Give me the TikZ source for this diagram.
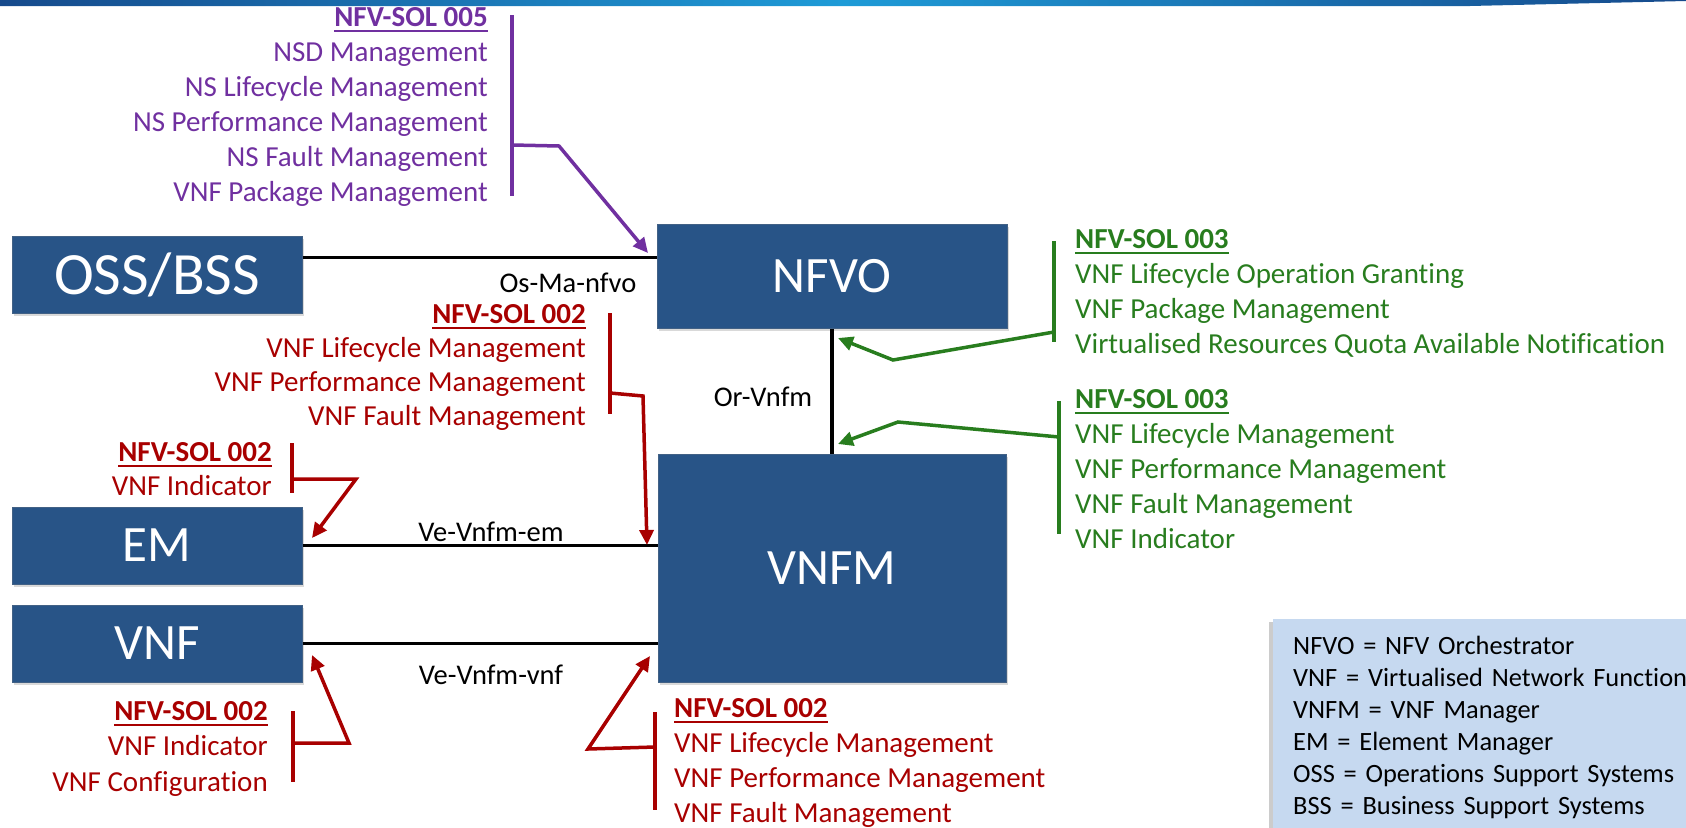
\documentclass[tikz,border=0pt]{standalone}
\usepackage{fontspec}
\setmainfont[Ligatures=NoCommon]{Carlito}
\usetikzlibrary{arrows.meta,shadows}

\definecolor{boxblue}{RGB}{40,84,135}
\definecolor{solred}{RGB}{168,0,0}
\definecolor{solgreen}{RGB}{40,125,30}
\definecolor{solpurple}{RGB}{112,48,160}
\definecolor{legendblue}{RGB}{198,217,240}
\definecolor{bardark}{RGB}{22,74,140}
\definecolor{barlight}{RGB}{30,155,215}

% underlined bold heading of a spec block
\newsavebox\headbox
\newcommand\solhead[1]{\sbox\headbox{\bfseries #1}\rlap{\rule[-6pt]{\wd\headbox}{2pt}}\usebox\headbox}

\begin{document}
\begin{tikzpicture}[x=1pt,y=-1pt,
    box/.style={draw=boxblue!70!gray, line width=1pt, fill=boxblue, text=white,
        font=\fontsize{51}{60}\selectfont, inner sep=0pt,
        drop shadow={shadow xshift=2pt,shadow yshift=-3pt,opacity=.3}},
    spec/.style={inner sep=0pt, font=\fontsize{29}{35}\selectfont},
    iface/.style={inner sep=0pt, font=\fontsize{28.5}{34}\selectfont},
    link/.style={line width=3.5pt},
    bracket/.style={line width=4.5pt},
    callout/.style={line width=3.5pt, -{Triangle[length=15pt,width=14pt]}}]
    \useasboundingbox (0,0) rectangle (1686,827);

    % top band
    \shade[left color=bardark, right color=bardark, middle color=barlight]
        (0,0) -- (1686,0) -- (1686,1) .. controls (1600,3) .. (1470,6) -- (0,6) -- cycle;

    % function blocks
    \node[box, minimum width=290, minimum height=77, font=\fontsize{60}{70}\selectfont] (oss) at (157,274.5) {OSS/BSS\hspace{22pt}};
    \node[box, minimum width=350, minimum height=104] (nfvo) at (832,276) {NFVO};
    \node[box, minimum width=348, minimum height=228] (vnfm) at (832,568) {VNFM};
    \node[box, minimum width=290, minimum height=77] (em) at (157,545.5) {EM};
    \node[box, minimum width=290, minimum height=77] (vnf) at (157,643.5) {VNF};

    % reference points
    \draw[link] ([yshift=17pt]oss.east) -- ([yshift=17pt]oss.east -| nfvo.west);
    \draw[link] (nfvo.south) -- (vnfm.north);
    \draw[link] (em.east) -- (em.east -| vnfm.west);
    \draw[link] (vnf.east) -- (vnf.east -| vnfm.west);
    \node[iface] (osma) at (568,283) {Os-Ma-nfvo};
    \node[iface] (orvnfm) at (763,397) {Or-Vnfm};
    \node[iface] (veem) at (491,532) {Ve-Vnfm-em};
    \node[iface] (vevnf) at (491,675) {Ve-Vnfm-vnf};

    % SOL 005 (base = last line)
    \node[spec, text=solpurple, align=right, anchor=base east] (sol005) at (488,201)
        {\solhead{NFV-SOL 005}\\NSD Management\\NS Lifecycle Management\\NS Performance Management\\NS Fault Management\\VNF Package Management};
    \draw[bracket, solpurple] (512,15) -- (512,196);
    \coordinate (b005) at (512,145);
    \coordinate (t005) at (648,253);
    \draw[callout, solpurple] (b005) -- (559,146) -- (t005);

    % SOL 002 towards VNFM (Ve-Vnfm-em)
    \node[spec, text=solred, align=right, anchor=base east, font=\fontsize{29}{34}\selectfont] (sol002m) at (586,425)
        {\solhead{NFV-SOL 002}\\VNF Lifecycle Management\\VNF Performance Management\\VNF Fault Management};
    \draw[bracket, solred] (610,313) -- (610,414);
    \coordinate (b002m) at (610,393);
    \coordinate (t002m) at (647,545);
    \draw[callout, solred] (b002m) -- (643,396) -- (t002m);

    % SOL 002 towards EM
    \node[spec, text=solred, align=right, anchor=base east, font=\fontsize{29}{34}\selectfont] (sol002em) at (272,495)
        {\solhead{NFV-SOL 002}\\VNF Indicator};
    \draw[bracket, solred] (292,443) -- (292,493);
    \coordinate (b002em) at (292,479);
    \coordinate (t002em) at (312,538);
    \draw[callout, solred] (b002em) -- (356,479) -- (t002em);

    % SOL 002 towards VNF
    \node[spec, text=solred, align=right, anchor=base east, font=\fontsize{29}{35.5}\selectfont] (sol002vnf) at (268,791)
        {\solhead{NFV-SOL 002}\\VNF Indicator\\VNF Configuration};
    \draw[bracket, solred] (293,711) -- (293,782);
    \coordinate (b002vnf) at (293,743);
    \coordinate (t002vnf) at (312,655);
    \draw[callout, solred] (b002vnf) -- (349,743) -- (t002vnf);

    % SOL 002 towards VNFM (Ve-Vnfm-vnf)
    \node[spec, text=solred, align=left, anchor=base west] (sol002v) at (674,822)
        {\solhead{NFV-SOL 002}\\VNF Lifecycle Management\\VNF Performance Management\\VNF Fault Management};
    \draw[bracket, solred] (655,712) -- (655,810);
    \coordinate (b002v) at (655,747);
    \coordinate (t002v) at (650,656);
    \draw[callout, solred] (b002v) -- (588,749) -- (t002v);

    % SOL 003 towards NFVO
    \node[spec, text=solgreen, align=left, anchor=base west] (sol003o) at (1075,353)
        {\solhead{NFV-SOL 003}\\VNF Lifecycle Operation Granting\\VNF Package Management\\Virtualised Resources Quota Available Notification};
    \draw[bracket, solgreen] (1054,241) -- (1054,342);
    \coordinate (b003o) at (1054,332);
    \coordinate (t003o) at (838,338);
    \draw[callout, solgreen] (b003o) -- (893,360) -- (t003o);

    % SOL 003 towards VNFM
    \node[spec, text=solgreen, align=left, anchor=base west] (sol003v) at (1075,548)
        {\solhead{NFV-SOL 003}\\VNF Lifecycle Management\\VNF Performance Management\\VNF Fault Management\\VNF Indicator};
    \draw[bracket, solgreen] (1059,401) -- (1059,534);
    \coordinate (b003v) at (1059,437);
    \coordinate (t003v) at (838,444);
    \draw[callout, solgreen] (b003v) -- (898,422) -- (t003v);

    % legend
    \node[fill=legendblue, anchor=north west, text width=420pt, align=left,
        inner xsep=20pt, inner ysep=17pt, font=\fontsize{26.4}{31.9}\selectfont,
        drop shadow={shadow xshift=-4pt,shadow yshift=-3pt,opacity=.4}] (legend) at (1273,619)
        {NFVO = NFV Orchestrator\\VNF = Virtualised Network Functions\\VNFM = VNF Manager\\EM = Element Manager\\OSS = Operations Support Systems\\BSS = Business Support Systems};
\end{tikzpicture}
\end{document}
